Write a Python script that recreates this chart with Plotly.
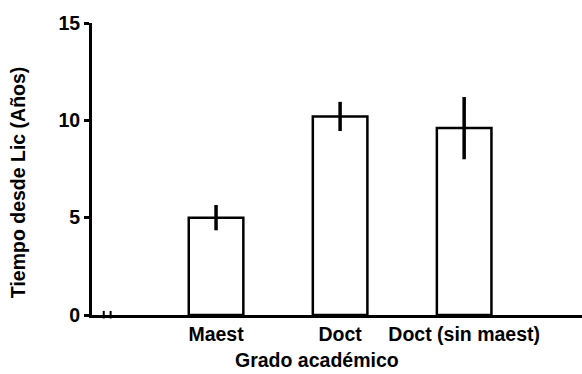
import plotly.graph_objects as go

# Mean years since licenciatura by academic degree, with error bars
categories = ["Maest", "Doct", "Doct (sin maest)"]
mean_years = [5.0, 10.2, 9.6]
err_years = [0.65, 0.75, 1.6]
y_ticks = [0, 5, 10, 15]

positions = list(range(len(categories)))
font_family = "Liberation Sans, Arial, sans-serif"

fig = go.Figure(
    go.Bar(
        x=positions,
        y=mean_years,
        width=0.44,
        marker=dict(color="white", line=dict(color="black", width=2.5)),
        error_y=dict(
            type="data",
            array=err_years,
            visible=True,
            color="black",
            thickness=3.5,
            width=0,
        ),
    )
)

# small break marks on the baseline next to the origin
break_marks = [
    dict(type="line", xref="paper", yref="paper",
         x0=x, x1=x, y0=-0.012, y1=0.014,
         line=dict(color="black", width=2))
    for x in (0.024, 0.038)
]

fig.update_layout(
    width=582,
    height=374,
    margin=dict(l=92, r=0, t=23, b=59),
    paper_bgcolor="white",
    plot_bgcolor="white",
    showlegend=False,
    font=dict(family=font_family, size=19, color="black"),
    xaxis=dict(
        range=[-1, 2.95],
        tickvals=positions,
        ticktext=[f"<b>{c}</b>" for c in categories],
        showgrid=False,
        zeroline=False,
        showline=True,
        linecolor="black",
        linewidth=3,
        ticks="",
        ticklabelstandoff=0,
        tickfont=dict(size=19.5),
    ),
    yaxis=dict(
        range=[0, 15],
        tickvals=y_ticks,
        ticktext=[f"<b>{v}</b>" for v in y_ticks],
        showgrid=False,
        zeroline=False,
        showline=True,
        linecolor="black",
        linewidth=3,
        ticks="outside",
        ticklen=5,
        tickwidth=2.5,
        tickcolor="black",
        tickfont=dict(size=19.5),
    ),
    shapes=break_marks,
    annotations=[
        dict(
            text="<b>Tiempo desde Lic (Años)</b>",
            xref="paper", yref="paper",
            x=-0.151, y=0.455,
            xanchor="center", yanchor="middle",
            textangle=-90,
            showarrow=False,
            font=dict(size=19.5),
        ),
        dict(
            text="<b>Grado académico</b>",
            xref="paper", yref="paper",
            x=0.459, y=-0.154,
            xanchor="center", yanchor="middle",
            showarrow=False,
            font=dict(size=19.5),
        ),
    ],
)

fig.write_html("out.html")
